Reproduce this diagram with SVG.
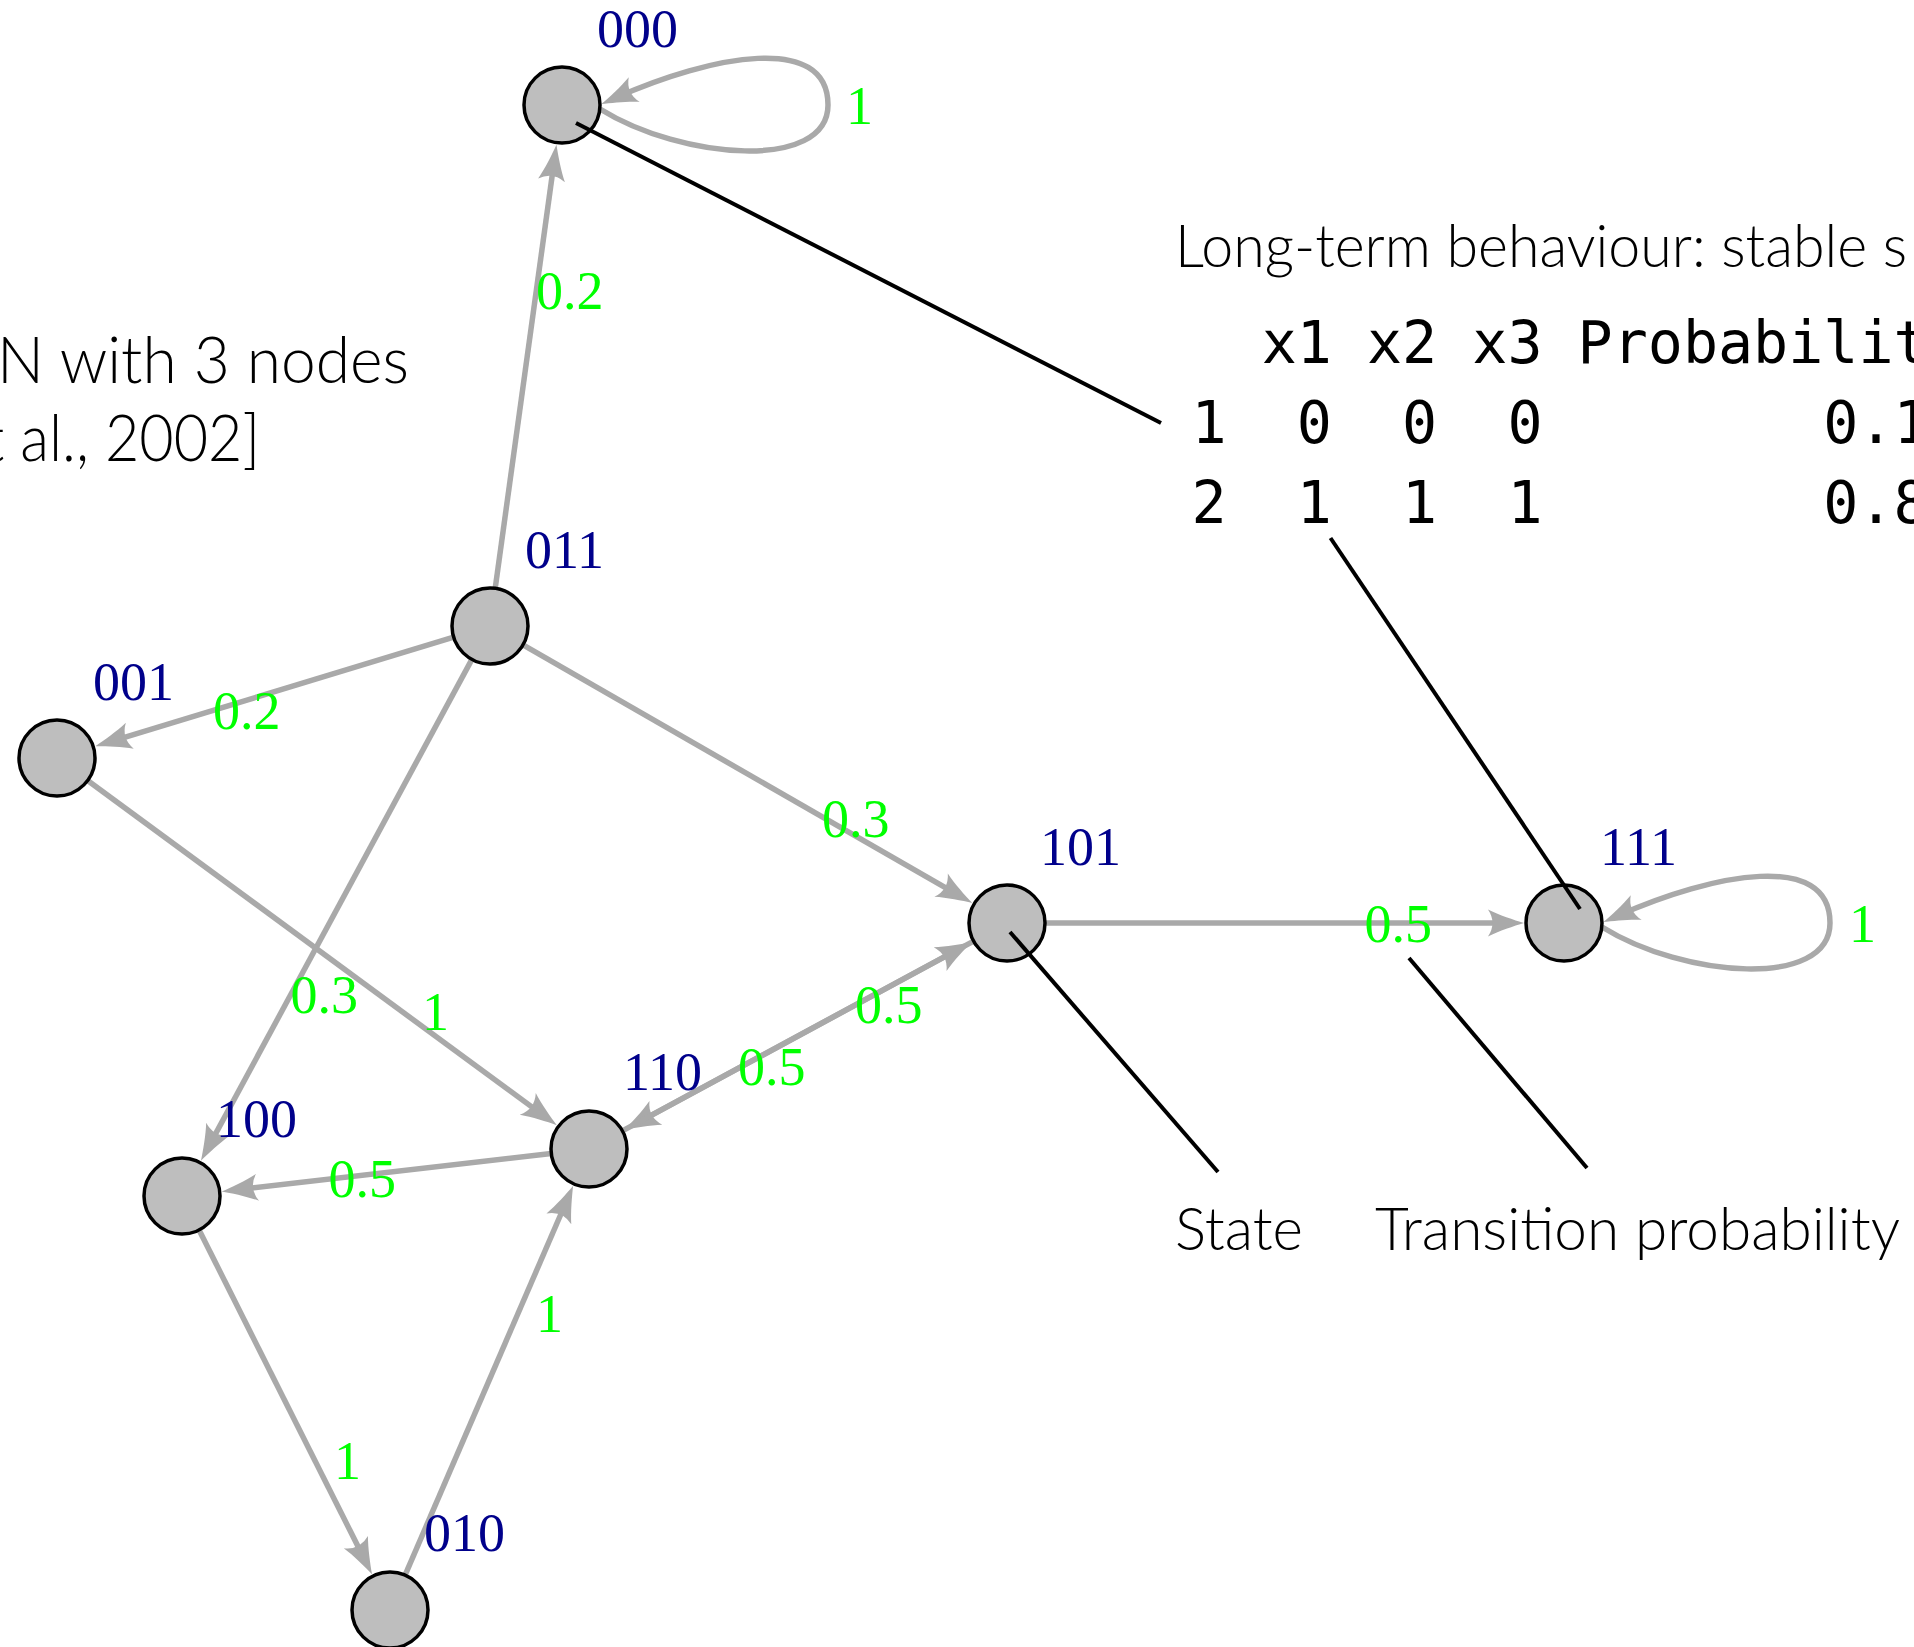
<svg xmlns="http://www.w3.org/2000/svg" width="1914" height="1647" viewBox="0 0 1914 1647">
  <style>
    .edge { stroke: #A9A9A9; stroke-width: 5.5; fill: none; marker-end: url(#arrow); }
    .loop { stroke: #A9A9A9; stroke-width: 5.5; fill: none; marker-end: url(#arrow); }
    .node circle { fill: #BEBEBE; stroke: #000; stroke-width: 3.5; }
    .vlabel { font-family: "Liberation Serif", "Times New Roman", serif; font-size: 54px; fill: #00008B; }
    .elabel { font-family: "Liberation Serif", "Times New Roman", serif; font-size: 54px; fill: #00FF00; }
    .note { font-family: Lato, "Open Sans", "Liberation Sans", sans-serif; font-weight: 300; fill: #000; }
    .mono { font-family: "DejaVu Sans Mono", "Liberation Mono", monospace; font-size: 58.3px; fill: #000; }
    .callout { stroke: #000; stroke-width: 4; fill: none; }
  </style>
  <defs>
    <marker id="arrow" markerUnits="userSpaceOnUse" markerWidth="44" markerHeight="32" refX="0" refY="0" orient="auto" overflow="visible">
      <path d="M15,0 C5,-3 -10,-8 -21,-13.5 Q-12,0 -21,13.5 C-10,8 5,3 15,0 Z" fill="#A9A9A9"/>
    </marker>
  </defs>

  <!-- captions -->
  <text class="note" x="-3" y="383" font-size="65" textLength="412" lengthAdjust="spacingAndGlyphs">N with 3 nodes</text>
  <text class="note" x="-16" y="461" font-size="65" textLength="276" lengthAdjust="spacingAndGlyphs">t al., 2002]</text>
  <text class="note" x="1175" y="266.5" font-size="60" textLength="732" lengthAdjust="spacingAndGlyphs">Long-term behaviour: stable s</text>
  <text class="note" x="1175" y="1250" font-size="60" textLength="128" lengthAdjust="spacingAndGlyphs">State</text>
  <text class="note" x="1375" y="1250" font-size="60" textLength="525" lengthAdjust="spacingAndGlyphs">Transition probability</text>

  <!-- stable-state table -->
  <g id="table" class="mono">
    <text y="363"><tspan x="1261.7">x1</tspan><tspan x="1367">x2</tspan><tspan x="1472.3">x3</tspan><tspan x="1577.6">Probabilit</tspan></text>
    <text y="443"><tspan x="1191.5">1</tspan><tspan x="1296.8">0</tspan><tspan x="1402.1">0</tspan><tspan x="1507.4">0</tspan><tspan x="1823.3">0.1</tspan></text>
    <text y="523"><tspan x="1191.5">2</tspan><tspan x="1296.8">1</tspan><tspan x="1402.1">1</tspan><tspan x="1507.4">1</tspan><tspan x="1823.3">0.8</tspan></text>
  </g>

  <!-- transitions -->
  <g id="edges">
    <path class="loop" d="M600,109 C682,160 828,171 828,105 C828,33 712,55 615,98"/>
    <line class="edge" x1="495.2" y1="588.4" x2="554.4" y2="159.5"/>
    <line class="edge" x1="453.7" y1="637.1" x2="109.7" y2="741.9"/>
    <line class="edge" x1="523" y1="644.9" x2="959.3" y2="895.6"/>
    <line class="edge" x1="471.9" y1="659.4" x2="208.1" y2="1147.6"/>
    <line class="edge" x1="87.6" y1="780.5" x2="544.7" y2="1116.4"/>
    <line class="edge" x1="1045" y1="923" x2="1509" y2="923"/>
    <path class="loop" d="M1602,927 C1684,978 1830,989 1830,923 C1830,851 1714,873 1617,916"/>
    <line class="edge" x1="973.6" y1="941.1" x2="637.4" y2="1122.9"/>
    <line class="edge" x1="622.4" y1="1130.9" x2="958.6" y2="949.1"/>
    <line class="edge" x1="551.3" y1="1153.4" x2="236.6" y2="1189.7"/>
    <line class="edge" x1="199.1" y1="1230" x2="365.3" y2="1560.9"/>
    <line class="edge" x1="405.1" y1="1575.1" x2="567.2" y2="1199.5"/>
  </g>

  <!-- transition probabilities -->
  <g id="edge-labels" class="elabel">
    <text x="846" y="124">1</text>
    <text x="536" y="309">0.2</text>
    <text x="213" y="729">0.2</text>
    <text x="822" y="836.5">0.3</text>
    <text x="290.5" y="1013">0.3</text>
    <text x="422" y="1030">1</text>
    <text x="1364.5" y="941.5">0.5</text>
    <text x="1849" y="941.5">1</text>
    <text x="855" y="1023">0.5</text>
    <text x="738" y="1085">0.5</text>
    <text x="328.5" y="1197">0.5</text>
    <text x="334" y="1479">1</text>
    <text x="536" y="1332">1</text>
  </g>

  <!-- states -->
  <g id="n000" class="node"><circle cx="562" cy="105" r="38"/><text class="vlabel" x="597" y="46.5">000</text></g>
  <g id="n011" class="node"><circle cx="490" cy="626" r="38"/><text class="vlabel" x="525" y="568">011</text></g>
  <g id="n001" class="node"><circle cx="57" cy="758" r="38"/><text class="vlabel" x="93" y="700">001</text></g>
  <g id="n101" class="node"><circle cx="1007" cy="923" r="38"/><text class="vlabel" x="1040" y="865">101</text></g>
  <g id="n111" class="node"><circle cx="1564" cy="923" r="38"/><text class="vlabel" x="1600" y="865">111</text></g>
  <g id="n110" class="node"><circle cx="589" cy="1149" r="38"/><text class="vlabel" x="623" y="1090">110</text></g>
  <g id="n100" class="node"><circle cx="182" cy="1196" r="38"/><text class="vlabel" x="216" y="1137">100</text></g>
  <g id="n010" class="node"><circle cx="390" cy="1610" r="38"/><text class="vlabel" x="424" y="1551">010</text></g>

  <!-- annotation pointers -->
  <g id="callouts">
    <line class="callout" x1="576" y1="123" x2="1161" y2="423"/>
    <line class="callout" x1="1330.5" y1="538" x2="1580" y2="909"/>
    <line class="callout" x1="1010" y1="932" x2="1218" y2="1172"/>
    <line class="callout" x1="1409" y1="958" x2="1587" y2="1168"/>
  </g>
</svg>
